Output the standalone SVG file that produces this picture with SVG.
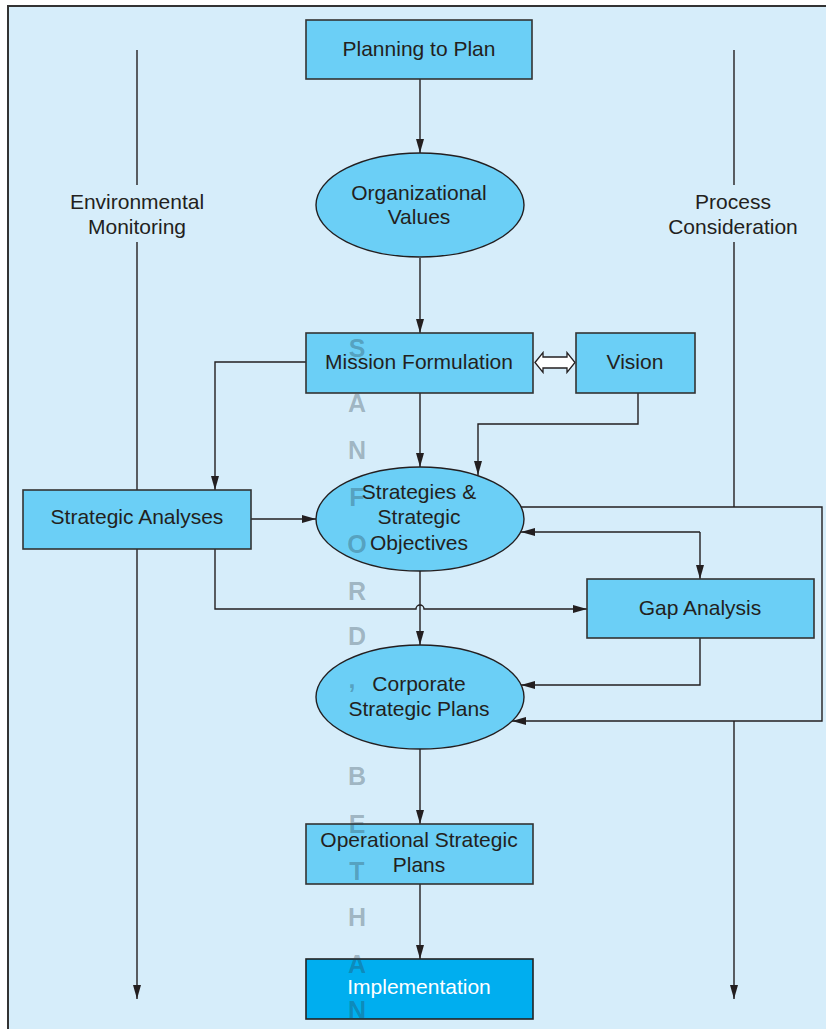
<svg xmlns="http://www.w3.org/2000/svg" width="826" height="1029" viewBox="0 0 826 1029">
  <defs>
    <marker id="arrow" viewBox="0 0 14 8" refX="14" refY="4" markerWidth="14" markerHeight="8" markerUnits="userSpaceOnUse" orient="auto">
      <path d="M0,0 L14,4 L0,8 z" fill="#231f20"/>
    </marker>
    <style>
      .frame { fill: #d6edfa; stroke: #333; stroke-width: 2; }
      .box { fill: #6bcff6; stroke: #333; stroke-width: 1.6; }
      .impl { fill: #00aeef; stroke: #222; stroke-width: 1.6; }
      .oval { fill: #6bcff6; stroke: #231f20; stroke-width: 1.4; }
      .lbl { font-family: "Liberation Sans", Arial, sans-serif; font-size: 21px; fill: #231f20; text-anchor: middle; }
      .white { fill: #ffffff; }
      .wire { fill: none; stroke: #231f20; stroke-width: 1.4; }
      .arr { marker-end: url(#arrow); }
      .wm { font-family: "Liberation Sans", Arial, sans-serif; font-weight: bold; font-size: 25px; fill: #2a3f4c; fill-opacity: 0.32; text-anchor: middle; }
    </style>
  </defs>

  <!-- panel background -->
  <rect class="frame" x="8" y="6" width="830" height="1040"/>

  <!-- connectors -->
  <g id="connectors">
    <!-- side flows -->
    <path class="wire" d="M137,50 V185"/>
    <path class="wire arr" d="M137,242 V999"/>
    <path class="wire" d="M734,50 V185"/>
    <path class="wire" d="M734,242 V507"/>
    <path class="wire arr" d="M734,721 V999"/>

    <!-- main spine -->
    <path class="wire arr" d="M420,79 V153"/>
    <path class="wire arr" d="M420,258 V333"/>
    <path class="wire arr" d="M420,393 V467"/>
    <path class="wire arr" d="M420,571 V645"/>
    <path class="wire arr" d="M420,749 V824"/>
    <path class="wire arr" d="M420,884 V959"/>

    <!-- vision to strategies -->
    <path class="wire arr" d="M638,393 V424 H478 V475"/>
    <!-- mission to strategic analyses -->
    <path class="wire arr" d="M306,362 H215 V490"/>
    <!-- strategic analyses to strategies -->
    <path class="wire arr" d="M251,519 H316"/>
    <!-- strategic analyses to gap analysis, hopping the spine -->
    <path class="wire arr" d="M215,549 V609 H416 A4,4 0 0 1 424,609 H587"/>
    <!-- strategies / gap analysis two-way link -->
    <path class="wire arr" d="M700,532 V579"/>
    <path class="wire arr" d="M700,532 H521"/>
    <!-- gap analysis to corporate plans -->
    <path class="wire arr" d="M700,638 V685 H521"/>
    <!-- feedback loop from strategies to corporate plans -->
    <path class="wire arr" d="M521,507 H822 V721 H512"/>

    <!-- hollow double arrow between mission and vision -->
    <path d="M535,362.5 L543,352.5 V357 H567 V352.5 L575,362.5 L567,372.5 V368 H543 V372.5 Z" fill="#ffffff" stroke="#231f20" stroke-width="1.3" stroke-linejoin="miter"/>
  </g>

  <!-- side labels -->
  <g id="env-monitoring">
    <text class="lbl" x="137" y="209">Environmental</text>
    <text class="lbl" x="137" y="234">Monitoring</text>
  </g>
  <g id="process-consideration">
    <text class="lbl" x="733" y="209">Process</text>
    <text class="lbl" x="733" y="234">Consideration</text>
  </g>

  <!-- nodes -->
  <g id="planning-to-plan">
    <rect class="box" x="306" y="20" width="226" height="59"/>
    <text class="lbl" x="419" y="56">Planning to Plan</text>
  </g>
  <g id="organizational-values">
    <ellipse class="oval" cx="420" cy="205" rx="104" ry="52"/>
    <text class="lbl" x="419" y="200">Organizational</text>
    <text class="lbl" x="419" y="224">Values</text>
  </g>
  <g id="mission-formulation">
    <rect class="box" x="306" y="333" width="227" height="60"/>
    <text class="lbl" x="419" y="369">Mission Formulation</text>
  </g>
  <g id="vision">
    <rect class="box" x="576" y="333" width="119" height="60"/>
    <text class="lbl" x="635" y="369">Vision</text>
  </g>
  <g id="strategic-analyses">
    <rect class="box" x="23" y="490" width="228" height="59"/>
    <text class="lbl" x="137" y="524">Strategic Analyses</text>
  </g>
  <g id="strategies">
    <ellipse class="oval" cx="420" cy="519" rx="104" ry="52"/>
    <text class="lbl" x="419" y="499">Strategies &amp;</text>
    <text class="lbl" x="419" y="524">Strategic</text>
    <text class="lbl" x="419" y="550">Objectives</text>
  </g>
  <g id="gap-analysis">
    <rect class="box" x="587" y="579" width="227" height="59"/>
    <text class="lbl" x="700" y="615">Gap Analysis</text>
  </g>
  <g id="corporate-plans">
    <ellipse class="oval" cx="420" cy="697" rx="104" ry="52"/>
    <text class="lbl" x="419" y="691">Corporate</text>
    <text class="lbl" x="419" y="716">Strategic Plans</text>
  </g>
  <g id="operational-plans">
    <rect class="box" x="306" y="824" width="227" height="60"/>
    <text class="lbl" x="419" y="847">Operational Strategic</text>
    <text class="lbl" x="419" y="872">Plans</text>
  </g>
  <g id="implementation">
    <rect class="impl" x="306" y="959" width="227" height="60"/>
    <text class="lbl white" x="419" y="994">Implementation</text>
  </g>

  <!-- vertical name stamp -->
  <g id="stamp">
    <text class="wm" x="357" y="357">S</text>
    <text class="wm" x="357" y="412">A</text>
    <text class="wm" x="357" y="459">N</text>
    <text class="wm" x="357" y="506">F</text>
    <text class="wm" x="357" y="553">O</text>
    <text class="wm" x="357" y="600">R</text>
    <text class="wm" x="357" y="645">D</text>
    <text class="wm" x="352" y="688">,</text>
    <text class="wm" x="357" y="785">B</text>
    <text class="wm" x="357" y="833">E</text>
    <text class="wm" x="357" y="880">T</text>
    <text class="wm" x="357" y="926">H</text>
    <text class="wm" x="357" y="973">A</text>
    <text class="wm" x="357" y="1019">N</text>
  </g>
</svg>
